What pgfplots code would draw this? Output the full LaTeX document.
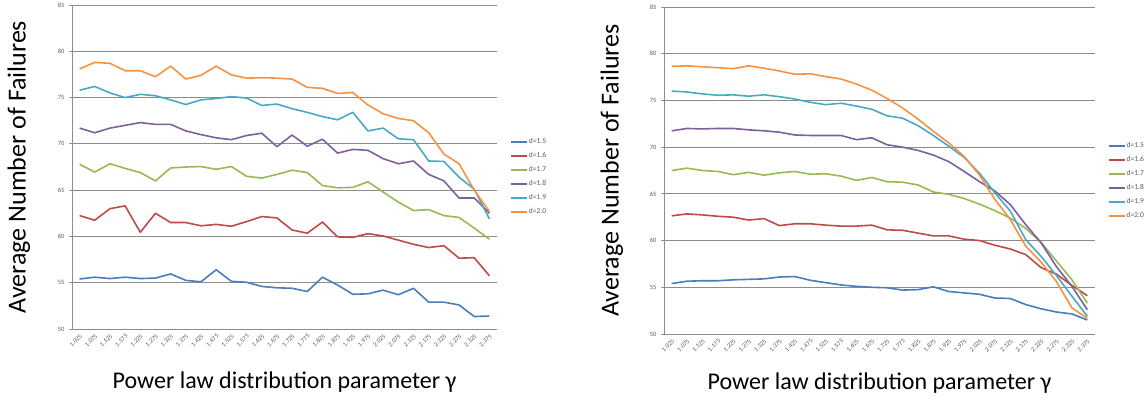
\documentclass[border=0pt]{standalone}
\usepackage{pgfplots}
\pgfplotsset{compat=1.18}
\usepackage{pgfplotstable}
\usepackage{fontspec}
\setmainfont{Carlito}
\definecolor{cB}{HTML}{4A7EBB}
\definecolor{cR}{HTML}{BE4B48}
\definecolor{cG}{HTML}{98B954}
\definecolor{cP}{HTML}{7D60A0}
\definecolor{cC}{HTML}{46AAC5}
\definecolor{cO}{HTML}{F69240}
\definecolor{gridc}{HTML}{8C8C8C}
\definecolor{tickc}{HTML}{595959}

\pgfplotstableread{
i b r g p c o
0 55.4 62.25 67.8 71.7 75.8 78.1
1 55.6 61.75 66.95 71.2 76.2 78.8
2 55.45 63.0 67.85 71.7 75.5 78.7
3 55.6 63.3 67.35 72.0 75.0 77.9
4 55.45 60.45 66.9 72.3 75.35 77.9
5 55.5 62.5 66.0 72.1 75.2 77.25
6 55.95 61.5 67.4 72.1 74.75 78.4
7 55.25 61.5 67.5 71.4 74.25 77.0
8 55.1 61.15 67.55 71.0 74.75 77.4
9 56.4 61.3 67.25 70.65 74.9 78.4
10 55.15 61.1 67.55 70.45 75.1 77.45
11 55.05 61.6 66.5 70.9 74.95 77.1
12 54.6 62.15 66.3 71.15 74.15 77.15
13 54.45 62.0 66.7 69.7 74.3 77.1
14 54.4 60.7 67.15 70.95 73.8 77.0
15 54.05 60.35 66.9 69.75 73.4 76.1
16 55.6 61.55 65.5 70.5 72.95 76.0
17 54.75 59.95 65.25 69.0 72.6 75.45
18 53.75 59.9 65.3 69.4 73.4 75.55
19 53.8 60.3 65.9 69.3 71.4 74.2
20 54.2 60.05 64.8 68.4 71.7 73.25
21 53.7 59.6 63.7 67.85 70.55 72.75
22 54.4 59.15 62.8 68.15 70.45 72.5
23 52.9 58.8 62.9 66.7 68.15 71.2
24 52.9 59.0 62.25 66.0 68.1 68.9
25 52.6 57.65 62.05 64.15 66.4 67.85
26 51.35 57.7 60.9 64.15 65.1 65.0
27 51.4 55.75 59.7 62.5 61.9 62.7
}\tabL

\pgfplotstableread{
i b r g p c o
0 55.4 62.65 67.5 71.75 76.0 78.65
1 55.65 62.85 67.75 72.0 75.9 78.7
2 55.7 62.75 67.5 71.95 75.7 78.6
3 55.7 62.6 67.4 72.0 75.55 78.5
4 55.8 62.5 67.05 72.0 75.6 78.4
5 55.85 62.2 67.3 71.85 75.45 78.7
6 55.9 62.35 67.0 71.75 75.6 78.45
7 56.1 61.6 67.25 71.6 75.4 78.15
8 56.15 61.8 67.4 71.3 75.15 77.8
9 55.75 61.8 67.1 71.25 74.8 77.85
10 55.5 61.65 67.15 71.25 74.55 77.55
11 55.25 61.55 66.9 71.25 74.7 77.3
12 55.1 61.55 66.45 70.8 74.4 76.75
13 55.0 61.65 66.75 71.0 74.05 76.1
14 54.95 61.15 66.3 70.25 73.35 75.2
15 54.7 61.1 66.25 70.0 73.1 74.2
16 54.75 60.8 65.95 69.65 72.3 73.0
17 55.05 60.5 65.2 69.15 71.25 71.7
18 54.55 60.5 64.95 68.45 70.1 70.45
19 54.4 60.15 64.5 67.4 68.9 69.0
20 54.25 60.0 63.9 66.3 67.2 67.0
21 53.85 59.5 63.2 65.3 65.1 64.4
22 53.8 59.1 62.4 63.85 63.15 62.25
23 53.15 58.5 61.3 61.7 60.1 59.4
24 52.7 57.1 59.8 59.75 58.3 57.7
25 52.35 56.4 57.8 57.2 56.25 55.6
26 52.15 55.2 55.8 55.1 54.05 52.8
27 51.5 54.1 53.3 52.6 51.9 51.7
}\tabR

\pgfplotsset{
  myaxis/.style={
    scale only axis,
    xmin=-0.5, xmax=27.5, ymin=50, ymax=85,
    ytick={50,55,...,85},
    xtick={0,...,27},
    xticklabels={1.025,1.075,1.125,1.175,1.225,1.275,1.325,1.375,1.425,1.475,1.525,1.575,1.625,1.675,1.725,1.775,1.825,1.875,1.925,1.975,2.025,2.075,2.125,2.175,2.225,2.275,2.325,2.375},
    axis x line*=bottom, axis y line*=left,
    axis line style={gridc, line width=0.8pt, -},
    ymajorgrids, grid style={gridc, line width=0.8pt},
    tick align=outside,
    major tick length=3pt,
    y tick style={gridc, line width=0.8pt},
    x tick style={draw=none},
    extra x ticks={-0.5,0.5,...,27.5},
    extra x tick labels={},
    extra x tick style={grid=none, major tick length=4pt, tick style={draw=gridc, line width=0.8pt}},
    /pgf/number format/assume math mode=true,
    yticklabel style={font=\fontsize{6.5}{7}\selectfont, text=tickc, xshift=-1pt},
    xticklabel style={font=\fontsize{6.5}{7}\selectfont, text=tickc, rotate=45, anchor=north east, inner sep=1pt},
    xlabel style={font=\fontsize{24}{26}\selectfont},
    ylabel style={font=\fontsize{26}{28}\selectfont},
    every axis plot/.append style={line width=1.6pt, mark=none, line join=round},
    legend cell align=left,
    legend image code/.code={\draw[#1] (0pt,0pt) -- (16pt,0pt);},
    legend style={draw=none, fill=none, font=\fontsize{7.5}{8}\selectfont, text=tickc,
      row sep=0pt, inner sep=0pt, nodes={inner sep=1pt, minimum height=14pt}},
  }
}

\begin{document}
\begin{tikzpicture}
\useasboundingbox (0,0) rectangle (1146pt,400pt);
\begin{axis}[myaxis, at={(72pt,71pt)}, anchor=south west, width=425pt, height=324pt,
  ylabel={Average Number of Failures},
  ylabel style={at={(axis description cs:-0.125,0.5)}, anchor=center},
  xlabel={Power law distribution parameter γ},
  xlabel style={at={(axis description cs:0.5,-0.165)}, anchor=center},
  legend style={at={(axis description cs:1.031,0.469)}, anchor=west}]
\addplot[cB] table[x=i,y=b] {\tabL}; \addlegendentry{d=1.5}
\addplot[cR] table[x=i,y=r] {\tabL}; \addlegendentry{d=1.6}
\addplot[cG] table[x=i,y=g] {\tabL}; \addlegendentry{d=1.7}
\addplot[cP] table[x=i,y=p] {\tabL}; \addlegendentry{d=1.8}
\addplot[cC] table[x=i,y=c] {\tabL}; \addlegendentry{d=1.9}
\addplot[cO] table[x=i,y=o] {\tabL}; \addlegendentry{d=2.0}
\end{axis}
\begin{axis}[myaxis, at={(664pt,66pt)}, anchor=south west, width=431pt, height=327pt,
  ylabel={Average Number of Failures},
  ylabel style={at={(axis description cs:-0.121,0.5)}, anchor=center},
  xlabel={Power law distribution parameter γ},
  xlabel style={at={(axis description cs:0.5,-0.15)}, anchor=center},
  legend style={at={(axis description cs:1.030,0.468)}, anchor=west}]
\addplot[cB] table[x=i,y=b] {\tabR}; \addlegendentry{d=1.5}
\addplot[cR] table[x=i,y=r] {\tabR}; \addlegendentry{d=1.6}
\addplot[cG] table[x=i,y=g] {\tabR}; \addlegendentry{d=1.7}
\addplot[cP] table[x=i,y=p] {\tabR}; \addlegendentry{d=1.8}
\addplot[cC] table[x=i,y=c] {\tabR}; \addlegendentry{d=1.9}
\addplot[cO] table[x=i,y=o] {\tabR}; \addlegendentry{d=2.0}
\end{axis}
\end{tikzpicture}
\end{document}
